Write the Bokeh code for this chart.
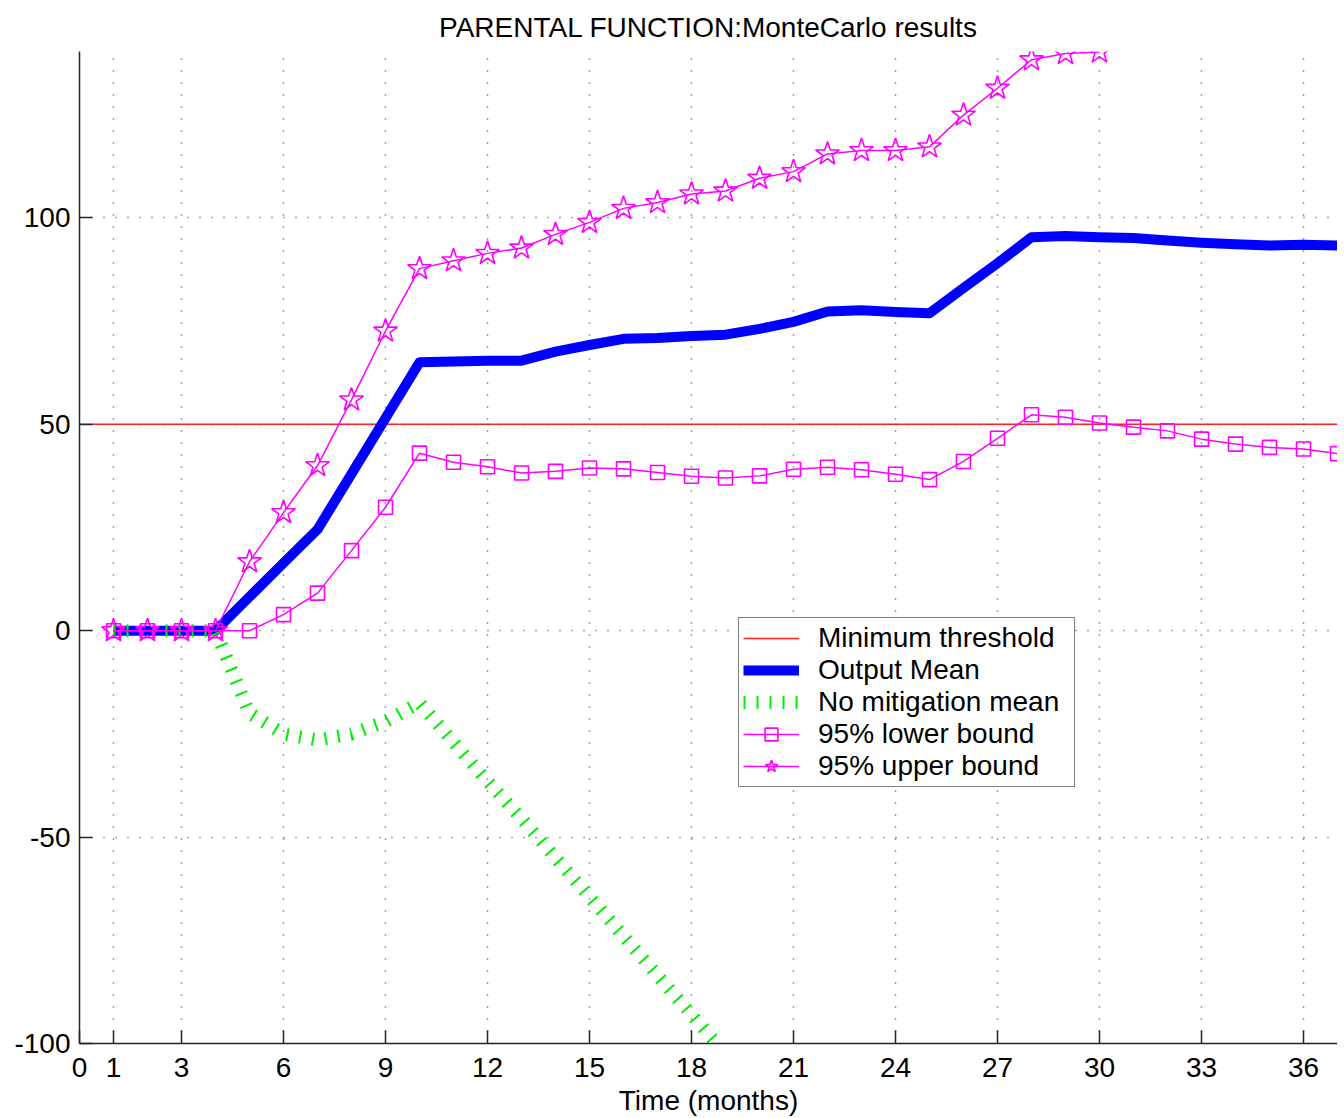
from bokeh.plotting import figure
from bokeh.models import Range1d, FixedTicker, Legend, LegendItem
from bokeh.embed import file_html
from bokeh.resources import INLINE

# ---- data ----
months = list(range(1, 38))
threshold_x = [0, 37]
threshold_y = [50, 50]
output_mean = [0, 0, 0, 0, 8.2, 16.4, 24.5, 38.0, 51.5, 65.0, 65.2, 65.4, 65.4, 67.6,
               69.2, 70.7, 70.9, 71.4, 71.7, 73.1, 74.8, 77.3, 77.6, 77.2, 76.9, 83.0,
               89.0, 95.3, 95.6, 95.3, 95.1, 94.5, 94.0, 93.6, 93.3, 93.5, 93.3]
lower_bound = [0, 0, 0, 0, 0, 3.9, 9.1, 19.4, 29.9, 43.0, 40.8, 39.7, 38.2, 38.6, 39.4,
               39.2, 38.3, 37.4, 37.0, 37.5, 39.1, 39.6, 39.0, 37.9, 36.6, 41.0, 46.6,
               52.3, 51.7, 50.3, 49.3, 48.4, 46.4, 45.2, 44.4, 44.0, 42.9]
upper_months = list(range(1, 31))
upper_bound = [0, 0, 0, 0, 16.7, 28.6, 40.0, 55.9, 72.6, 87.7, 89.6, 91.4, 92.7, 96.0,
               98.9, 102.3, 103.7, 105.8, 106.5, 109.6, 111.2, 115.5, 116.3, 116.3,
               117.2, 124.9, 131.4, 138.3, 139.8, 140.2]
nomit_months = list(range(1, 20))
no_mitigation = [0, 0, 0, 0, -20.0, -25.0, -26.5, -25.0, -22.0, -17.5, -27.0, -36.5,
                 -45.5, -55.0, -64.5, -74.0, -83.5, -93.0, -102.5]

x_ticks = [0, 1, 3, 6, 9, 12, 15, 18, 21, 24, 27, 30, 33, 36]
y_ticks = [-100, -50, 0, 50, 100]
title_text = "PARENTAL FUNCTION:MonteCarlo results"

FONT = "Liberation Sans"
FS = "28px"

p = figure(width=1337, height=1118, output_backend="svg", toolbar_location=None,
           x_range=Range1d(0, 37), y_range=Range1d(-100, 140.3),
           min_border_left=79, min_border_right=0, min_border_top=0,
           min_border_bottom=0, title=title_text)
p.outline_line_color = None
p.background_fill_color = "white"
p.border_fill_color = "white"

p.title.align = "center"
p.title.text_font = FONT
p.title.text_font_size = FS
p.title.text_font_style = "normal"
p.title.text_color = "black"
p.title.standoff = 18

xa = p.below[0]
ya = p.left[0]

for ax, ticks in ((xa, x_ticks), (ya, y_ticks)):
    ax.ticker = FixedTicker(ticks=ticks)
    ax.major_label_overrides = {t: str(t) for t in ticks}
    ax.major_label_text_font = FONT
    ax.major_label_text_font_size = FS
    ax.major_label_text_color = "black"
    ax.major_tick_in = 13
    ax.major_tick_out = 0
    ax.minor_tick_line_color = None
    ax.axis_line_color = "#262626"
    ax.axis_line_width = 1.5
    ax.major_tick_line_color = "#262626"
    ax.major_tick_line_width = 1.5
    ax.major_label_standoff = 9

xa.major_label_standoff = 14
xa.axis_label = "Time (months)"
xa.axis_label_text_font = FONT
xa.axis_label_text_font_size = FS
xa.axis_label_text_font_style = "normal"
xa.axis_label_text_color = "black"
xa.axis_label_standoff = 5

p.xgrid.ticker = FixedTicker(ticks=x_ticks)
p.ygrid.ticker = FixedTicker(ticks=y_ticks)
for g in (p.xgrid, p.ygrid):
    g.grid_line_color = "#444444"
    g.grid_line_dash = "1 11"
    g.grid_line_width = 1.5

r_red = p.line(threshold_x, threshold_y, line_color="#ff2020", line_width=1.5)
r_mean = p.line(months, output_mean, line_color="#0000ff", line_width=10, line_join="round")
r_green = p.line(nomit_months, no_mitigation, line_color="#00ee00", line_width=13,
                 line_dash="2 11")
r_low_l = p.line(months, lower_bound, line_color="#ff00ff", line_width=1.5)
r_low_m = p.scatter(months, lower_bound, marker="square", size=14, fill_color=None,
                    line_color="#ff00ff", line_width=1.6)
r_up_l = p.line(upper_months, upper_bound, line_color="#ff00ff", line_width=1.5)
r_up_m = p.scatter(upper_months, upper_bound, marker="star", size=25, fill_color=None,
                   line_color="#ff00ff", line_width=1.6)

legend = Legend(items=[
    LegendItem(label="Minimum threshold", renderers=[r_red]),
    LegendItem(label="Output Mean", renderers=[r_mean]),
    LegendItem(label="No mitigation mean", renderers=[r_green]),
    LegendItem(label="95% lower bound", renderers=[r_low_l, r_low_m]),
    LegendItem(label="95% upper bound", renderers=[r_up_l, r_up_m]),
], location=(659, 256))
legend.padding = 4
legend.spacing = 0
legend.margin = 0
legend.glyph_width = 56
legend.glyph_height = 32
legend.label_height = 32
legend.label_width = 252
legend.label_standoff = 19
legend.label_text_font = FONT
legend.label_text_font_size = FS
legend.label_text_color = "black"
legend.border_line_color = "black"
legend.border_line_width = 1.5
legend.background_fill_color = "white"
legend.background_fill_alpha = 1.0
p.add_layout(legend)

open("out.html", "w").write(file_html(p, INLINE))
